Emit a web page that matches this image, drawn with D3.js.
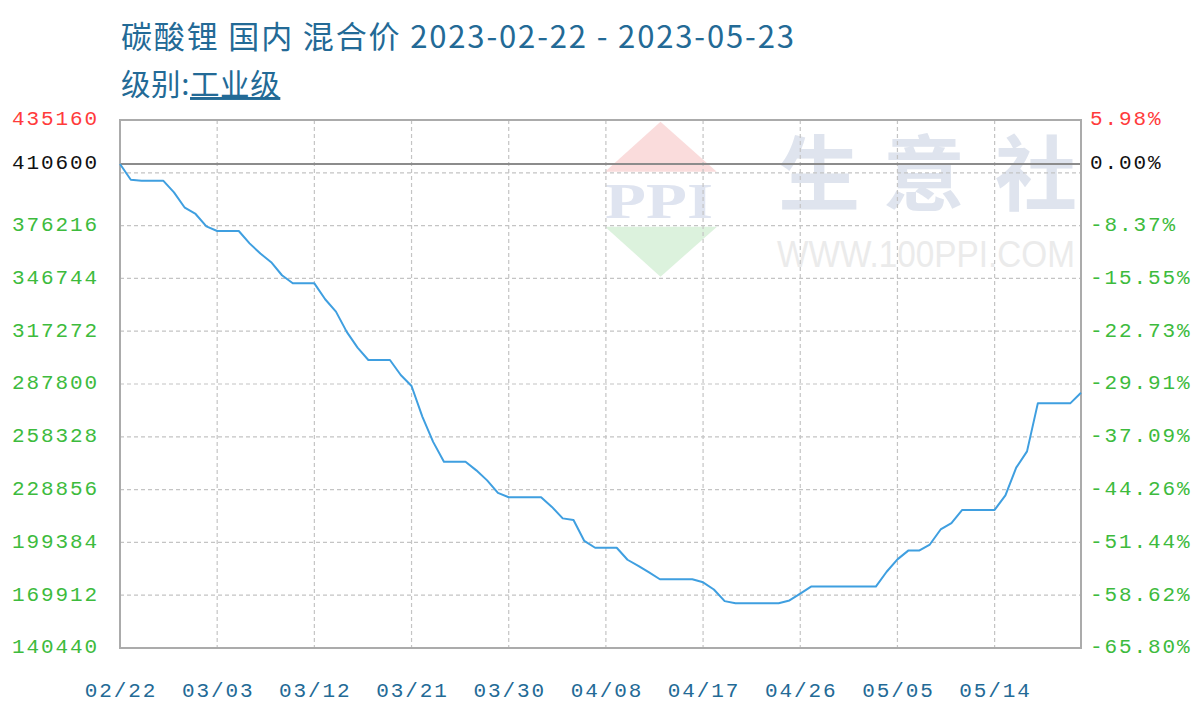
<!DOCTYPE html>
<html><head><meta charset="utf-8">
<script src="https://cdn.jsdelivr.net/npm/d3@7"></script>
<style>html,body{margin:0;padding:0;background:#fff;}svg{display:block;}</style>
</head><body>
<svg id="chart" width="1200" height="720"></svg>
<script>
// ---- data ----
const titleText = "碳酸锂 国内 混合价 2023-02-22 - 2023-05-23";
const subLabel = "级别:";
const subLink = "工业级";
const startDate = new Date(2023, 1, 22);
const endDate = new Date(2023, 4, 23);
const prices = [
  410600, 401800, 401300, 401300, 401300, 394800, 386200, 382700, 375800, 373200,
  373200, 373200, 366300, 360600, 355800, 348500, 344000, 344000, 344000, 335100,
  328200, 316900, 308100, 301200, 301200, 301200, 292800, 286700, 269600, 255500,
  244400, 244400, 244400, 239600, 234000, 227000, 224600, 224600, 224600, 224600,
  219200, 212800, 211900, 200200, 196400, 196400, 196400, 189700, 186300, 182600,
  178800, 178800, 178800, 178800, 177100, 173100, 166600, 165400, 165400, 165400,
  165400, 165400, 167000, 170800, 174700, 174700, 174700, 174700, 174700, 174700,
  174700, 183000, 189900, 194800, 194800, 198200, 206600, 210200, 217500, 217500,
  217500, 217500, 225600, 241100, 250200, 277000, 277000, 277000, 277000, 282900
];
const baseValue = 410600;
const yMin = 140440, yMax = 435160;
const gridValues = [169912, 199384, 228856, 258328, 287800, 317272, 346744, 376216, 405688];
const labelValues = [140440, 169912, 199384, 228856, 258328, 287800, 317272, 346744, 376216];
const xTickEvery = 9;

// ---- layout ----
const svg = d3.select("#chart");
const L = 120, R = 1081, T = 120, B = 648;
const fmt = d3.timeFormat("%m/%d");
const dates = d3.timeDay.range(startDate, endDate);
const cats = dates.map(fmt);
const x = d3.scalePoint().domain(cats).range([L, R]);
const y = d3.scaleLinear().domain([yMin, yMax]).range([B, T]);
const pct = v => ((v - baseValue) / baseValue * 100).toFixed(2) + "%";

const monoFont = "'Liberation Mono','DejaVu Sans Mono',monospace";
const blue = "#236a96";
const red = "#ff3b3b", green = "#3dbb3d", black = "#111";

// title
svg.append("text").attr("x", 121).attr("y", 48)
  .attr("font-family", "'Noto Sans CJK SC',sans-serif").attr("font-size", 31)
  .attr("textLength", 673).attr("lengthAdjust", "spacing")
  .attr("fill", blue).text(titleText);
const sub = svg.append("text").attr("x", 121).attr("y", 95)
  .attr("font-family", "'Noto Sans CJK SC',sans-serif").attr("font-size", 29.5)
  .attr("letter-spacing", "0.6px").attr("fill", blue);
sub.append("tspan").text(subLabel);
sub.append("tspan").attr("text-decoration", "underline").text(subLink);

// watermark
const wm = svg.append("g");
wm.append("path").attr("d", "M605,171.7 L660.5,121.7 L716.7,171.7 Z").attr("fill", "#fadcdc");
wm.append("path").attr("d", "M605,226.7 L717,226.7 L660.5,276.7 Z").attr("fill", "#dcf2dd");
wm.append("text").attr("x", 605).attr("y", 218).attr("textLength", 108).attr("lengthAdjust", "spacingAndGlyphs")
  .attr("font-family", "'Liberation Serif',serif").attr("font-weight", "bold").attr("font-size", 50)
  .attr("fill", "#dfe4f0").text("PPI");
["生", "意", "社"].forEach((c, i) => {
  wm.append("text").attr("x", [819, 924, 1036][i]).attr("y", 204)
    .attr("text-anchor", "middle").attr("font-family", "'Noto Sans CJK SC',sans-serif")
    .attr("font-weight", "bold").attr("font-size", 82).attr("fill", "#dfe4ee").text(c);
});
wm.append("text").attr("x", 777).attr("y", 267).attr("textLength", 298).attr("lengthAdjust", "spacingAndGlyphs")
  .attr("font-family", "'Liberation Sans',sans-serif").attr("font-size", 37)
  .attr("fill", "#ebebeb").text("WWW.100PPI.COM");

// grid
const grid = svg.append("g").attr("stroke", "#c4c4c4").attr("stroke-width", 1.2).attr("stroke-dasharray", "4,3");
grid.selectAll("line.h").data(gridValues).join("line").attr("class", "h")
  .attr("x1", L).attr("x2", R).attr("y1", d => y(d)).attr("y2", d => y(d));
const xTicks = cats.filter((d, i) => i % xTickEvery === 0);
grid.selectAll("line.v").data(xTicks.slice(1)).join("line").attr("class", "v")
  .attr("x1", d => x(d)).attr("x2", d => x(d)).attr("y1", T).attr("y2", B);

// baseline
svg.append("line").attr("x1", L).attr("x2", R).attr("y1", y(baseValue)).attr("y2", y(baseValue))
  .attr("stroke", "#8c8c8c").attr("stroke-width", 1.8);

// border
svg.append("rect").attr("x", L).attr("y", T).attr("width", R - L).attr("height", B - T)
  .attr("fill", "none").attr("stroke", "#ababab").attr("stroke-width", 2);

// line
const line = d3.line().x((d, i) => x(cats[i])).y(d => y(d));
svg.append("path").datum(prices).attr("d", line).attr("fill", "none")
  .attr("stroke", "#3f9fe0").attr("stroke-width", 2).attr("stroke-linejoin", "round");

// y axes labels
const leftG = svg.append("g").attr("font-family", monoFont).attr("font-size", 21).attr("letter-spacing", "1.9px");
const allLeft = labelValues.map(v => ({v, c: green})).concat([{v: baseValue, c: black}, {v: yMax, c: red}]);
leftG.selectAll("text.l").data(allLeft).join("text").attr("class", "l")
  .attr("x", 99).attr("y", d => y(d.v)).attr("dy", "0.26em").attr("text-anchor", "end")
  .attr("fill", d => d.c).text(d => d.v);
leftG.selectAll("text.r").data(allLeft).join("text").attr("class", "r")
  .attr("x", 1090).attr("y", d => y(d.v)).attr("dy", "0.26em").attr("text-anchor", "start")
  .attr("fill", d => d.c).text(d => pct(d.v));

// x labels
svg.append("g").attr("font-family", monoFont).attr("font-size", 21).attr("letter-spacing", "1.9px")
  .selectAll("text").data(xTicks).join("text")
  .attr("x", d => x(d) + 1).attr("y", 697).attr("text-anchor", "middle").attr("fill", blue).text(d => d);
</script>
</body></html>
